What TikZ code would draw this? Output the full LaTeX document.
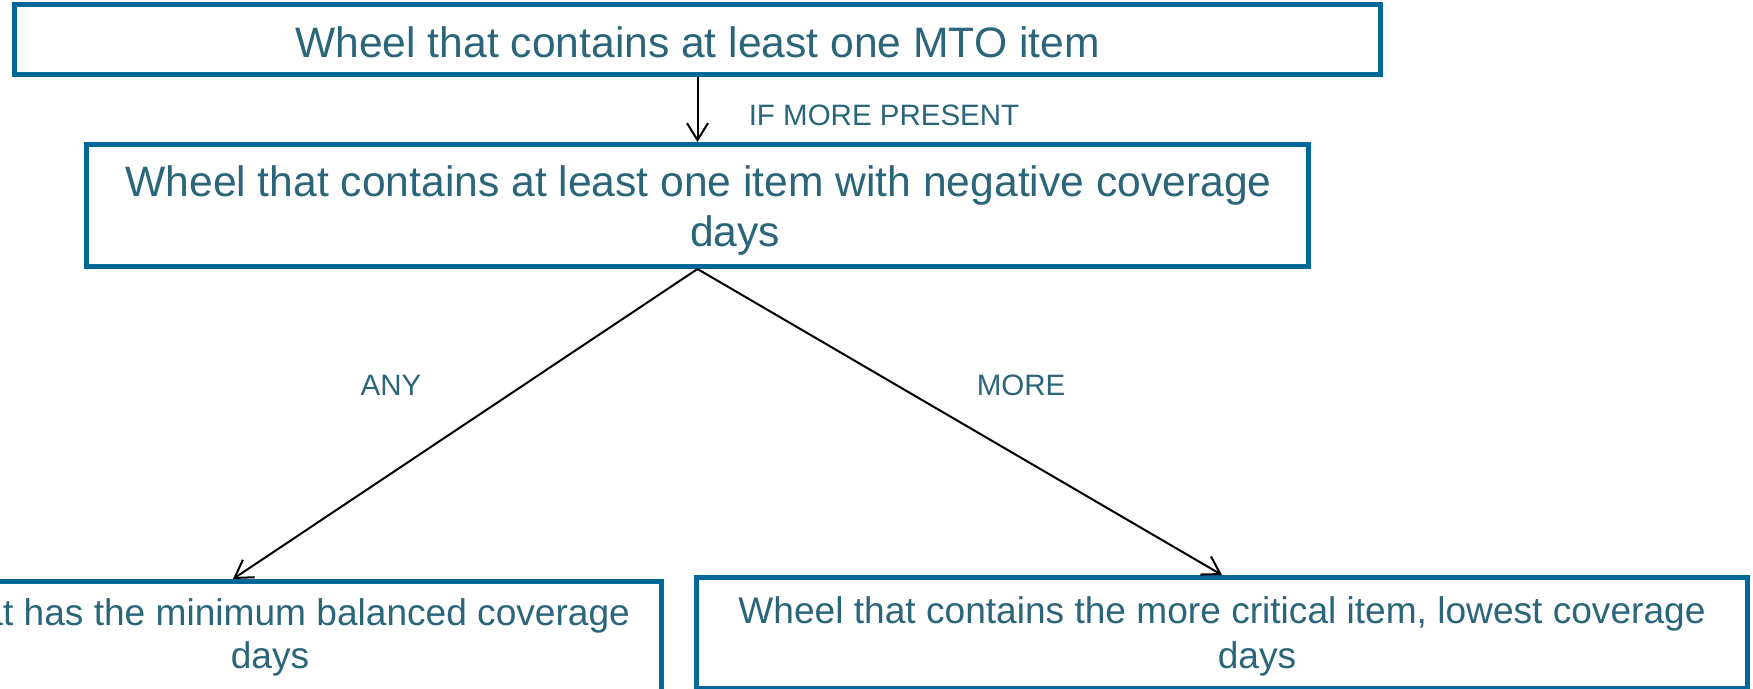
\documentclass[tikz,border=0pt]{standalone}
\usepackage{fontspec}
\setmainfont{Liberation Sans}
\usetikzlibrary{arrows.meta}
\definecolor{boxblue}{RGB}{0,103,155}
\definecolor{txtteal}{RGB}{42,101,122}
\tikzset{
  box/.style={draw=boxblue, line width=5pt, rectangle, inner sep=0pt, fill=none},
  bigtxt/.style={anchor=base, inner sep=0pt, text=txtteal, font=\fontsize{42.6}{50}\selectfont},
  midtxt/.style={anchor=base, inner sep=0pt, text=txtteal, font=\fontsize{37.1}{45}\selectfont},
  lbl/.style={anchor=base, inner sep=0pt, text=txtteal, font=\fontsize{29.5}{34}\selectfont},
  conn/.style={draw=black, line width=2pt, -{Straight Barb[length=17pt,width=21pt]}}
}
\begin{document}
\begin{tikzpicture}[x=1pt,y=-1pt]
\useasboundingbox (0,0) rectangle (1753,688);
\clip (0,0) rectangle (1753,688);
% boxes
\node[box, minimum width=1366pt, minimum height=70pt] (b1) at (697.5,39.5) {};
\node[box, minimum width=1222pt, minimum height=122pt] (b2) at (697.5,205.5) {};
\node[box, minimum width=857pt, minimum height=111.5pt] (b3) at (233,637.25) {};
\node[box, minimum width=1051pt, minimum height=110.5pt] (b4) at (1222,632.75) {};
% texts
\node[bigtxt] (t1) at (697.5,57) {Wheel that contains at least one MTO item};
\node[bigtxt] (t2a) at (698.5,196) {Wheel that contains at least one item with negative coverage};
\node[bigtxt] (t2b) at (735,246) {days};
\node[midtxt] (t3a) at (233,625) {Wheel that has the minimum balanced coverage};
\node[midtxt] (t3b) at (270,668) {days};
\node[midtxt] (t4a) at (1222,623) {Wheel that contains the more critical item, lowest coverage};
\node[midtxt] (t4b) at (1257,668) {days};
% labels
\node[lbl] (l1) at (884,125) {IF MORE PRESENT};
\node[lbl] (l2) at (391,395) {ANY};
\node[lbl] (l3) at (1021,395) {MORE};
% connectors
\draw[conn] (b1.south) -- (b2.north);
\draw[conn] (b2.south) -- (b3.north);
\draw[conn] (b2.south) -- (b4.north);
\end{tikzpicture}
\end{document}
